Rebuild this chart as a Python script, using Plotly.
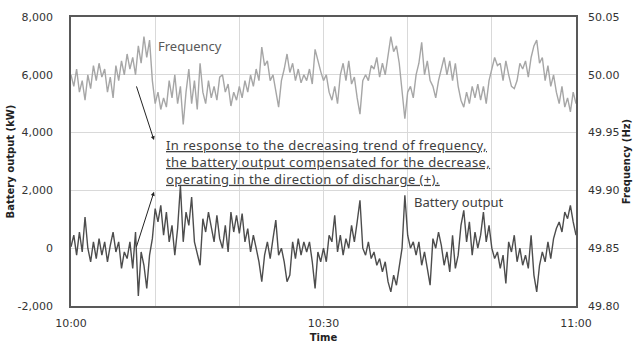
import numpy as np
import plotly.graph_objects as go

# Frequency (Hz), sampled every 20 s from 10:00 to 11:00
frequency_hz = [
    50.000, 49.990, 50.005, 49.985, 49.995, 49.978, 50.000, 49.988, 50.008,
    49.995, 50.010, 49.998, 50.005, 49.985, 49.998, 49.980, 50.008, 49.995,
    50.012, 50.000, 50.018, 50.005, 50.015, 50.000, 50.025, 50.010, 50.033,
    50.015, 50.030, 49.995, 49.975, 49.985, 49.970, 49.980, 49.972, 49.995,
    49.980, 50.000, 49.975, 49.990, 49.957, 49.985, 50.005, 49.975, 49.995,
    49.970, 50.010, 49.985, 49.975, 49.995, 49.980, 49.990, 49.978, 49.998,
    50.000, 49.985, 49.992, 49.973, 49.985, 49.978, 49.990, 49.980, 49.995,
    49.985, 50.000, 49.990, 50.005, 49.995, 50.024, 50.008, 50.012, 49.995,
    50.000, 49.985, 49.972, 49.995, 50.005, 50.018, 50.002, 50.010, 49.995,
    50.005, 49.993, 50.000, 49.995, 50.005, 49.992, 50.022, 50.012, 50.003,
    49.995, 50.000, 49.985, 49.978, 49.990, 49.975, 50.000, 50.010, 49.995,
    50.012, 49.992, 49.998, 49.980, 49.966, 49.995, 50.000, 49.995, 50.008,
    50.005, 50.015, 49.998, 50.010, 50.000, 50.018, 50.033, 50.020, 50.025,
    50.010, 49.985, 49.962, 49.985, 49.990, 49.980, 50.000, 50.010, 50.028,
    50.000, 50.012, 49.995, 49.990, 49.980, 49.995, 50.005, 50.015, 50.000,
    50.012, 49.995, 50.010, 49.990, 49.978, 49.972, 49.985, 49.975, 49.990,
    49.980, 49.992, 49.978, 49.990, 49.975, 49.995, 50.005, 50.015, 50.008,
    50.010, 49.995, 50.012, 50.000, 49.990, 49.988, 49.995, 50.010, 50.005,
    50.012, 49.998, 50.015, 50.025, 50.030, 50.010, 50.015, 49.995, 50.008,
    49.990, 50.000, 49.985, 49.975, 49.990, 49.972, 49.980, 49.968, 49.985,
    49.975,
]

# Battery output (kW), sampled every 20 s from 10:00 to 11:00
battery_kw = [
    50, 450, -240, 560, -130, 1080, 0, -470, 220,
    -360, 330, -240, 220, -470, 100, 560, -130, 220,
    -700, -130, -360, 220, -700, 560, -1650, -130, -590,
    -1390, -240, 330, 1370, 910, 1480, 450, 1250, 220,
    790, -240, 680, 2170, 220, 1250, 790, 1770, 220,
    -240, -590, 1020, 560, 1250, 680, 220, 1140, 330,
    0, 790, -130, 1250, 560, 1140, 510, 1200, 220,
    680, -130, 450, 0, -470, -1160, -240, 220, -360,
    330, 970, -240, 0, -470, -1160, -930, 220, -360,
    330, -240, 220, -130, 220, -470, -1390, -130, -470,
    0, -470, 450, 220, 1140, -130, 450, -240, 330,
    0, 790, 220, 910, 1660, 0, -240, 220, -360,
    -130, -590, -360, -820, -470, -1160, -1510, -930, -1280,
    -700, 0, 1830, 450, 0, 220, -240, 220, -590,
    -130, -700, -1280, 330, 0, 560, 100, -590, -130,
    -820, 450, -700, -240, 790, 1310, 220, 910, -240,
    560, 0, 450, 1250, 220, 790, 0, -360, -130,
    -700, -240, -1220, 220, -130, 450, -470, 0, -590,
    -240, -700, 450, -930, -1510, -590, -130, -470, 220,
    -360, 330, 680, 910, 560, 1250, 1020, 1480, 910,
    450,
]

minutes = np.arange(len(battery_kw)) / 3.0

x_tickvals = [0, 10, 20, 30, 40, 50, 60]
x_ticktext = ["10:00", "", "", "10:30", "", "", "11:00"]
left_tickvals = [-2000, 0, 2000, 4000, 6000, 8000]
left_ticktext = ["-2,000", "0", "2,000", "4,000", "6,000", "8,000"]
right_tickvals = [49.80, 49.85, 49.90, 49.95, 50.00, 50.05]
right_ticktext = ["49.80", "49.85", "49.90", "49.95", "50.00", "50.05"]

FONT = "Noto Sans"
GRID = "#d9d9d9"
TICKFONT = dict(family="DejaVu Sans", size=11, color="#333333")
TITLEFONT = dict(family="DejaVu Sans", size=10, color="#222222")

fig = go.Figure()
fig.add_trace(go.Scatter(x=minutes, y=frequency_hz, yaxis="y2", mode="lines",
                         line=dict(color="#a6a6a6", width=1.4), showlegend=False))
fig.add_trace(go.Scatter(x=minutes, y=battery_kw, yaxis="y", mode="lines",
                         line=dict(color="#4d4d4d", width=1.4), showlegend=False))

fig.update_layout(
    width=636, height=345,
    margin=dict(l=71, r=60, t=17, b=39),
    paper_bgcolor="white", plot_bgcolor="white",
    font=dict(family=FONT, color="#333333"),
    xaxis=dict(range=[0, 60], tickvals=x_tickvals, ticktext=x_ticktext, automargin=False,
               showgrid=True, gridcolor=GRID, gridwidth=1,
               showline=True, linecolor="#595959", linewidth=1.5, mirror=True,
               zeroline=False, ticks="", tickfont=TICKFONT, ticklabelstandoff=6,
               title=dict(text="<b>Time</b>", font=TITLEFONT, standoff=5)),
    yaxis=dict(range=[-2000, 8000], tickvals=left_tickvals, ticktext=left_ticktext, automargin=False,
               showgrid=True, gridcolor=GRID, gridwidth=1,
               showline=True, linecolor="#595959", linewidth=1.5, mirror=True,
               zeroline=False, ticks="", tickfont=TICKFONT, ticklabelstandoff=14,
               title=dict(text="<b>Battery output (kW)</b>", font=TITLEFONT, standoff=1)),
    yaxis2=dict(range=[49.80, 50.05], tickvals=right_tickvals, ticktext=right_ticktext,
                automargin=False,
                overlaying="y", side="right", showgrid=False, zeroline=False,
                showline=False, ticks="", tickfont=TICKFONT, ticklabelstandoff=11,
                title=dict(text="<b>Frequency (Hz)</b>", font=TITLEFONT, standoff=4)),
)

u = "text-decoration:underline;letter-spacing:0.4px"
note = ("<span style='%s'>In response to the decreasing trend of frequency,</span><br>"
        "<span style='%s'>the battery output compensated for the decrease,</span><br>"
        "<span style='%s'>operating in the direction of discharge (+).</span>") % (u, u, u)

fig.add_annotation(x=11.0, y=3950, xref="x", yref="y", text=note, showarrow=False,
                   xanchor="left", yanchor="top", align="left",
                   font=dict(family=FONT, size=13, color="#404040"))
fig.add_annotation(x=10.1, y=7000, xref="x", yref="y", text="Frequency", showarrow=False,
                   xanchor="left", yanchor="middle",
                   font=dict(family=FONT, size=13, color="#595959"))
fig.add_annotation(x=40.5, y=1600, xref="x", yref="y", text="Battery output", showarrow=False,
                   xanchor="left", yanchor="middle",
                   font=dict(family=FONT, size=13, color="#404040"))
# arrows
fig.add_annotation(x=9.86, y=3740, ax=7.72, ay=5650, xref="x", yref="y", axref="x", ayref="y",
                   text="", showarrow=True, arrowhead=2, arrowsize=0.8, arrowwidth=1,
                   arrowcolor="#222222")
fig.add_annotation(x=9.86, y=1950, ax=7.72, ay=0, xref="x", yref="y", axref="x", ayref="y",
                   text="", showarrow=True, arrowhead=2, arrowsize=0.8, arrowwidth=1,
                   arrowcolor="#222222")

fig.write_html("out.html")
